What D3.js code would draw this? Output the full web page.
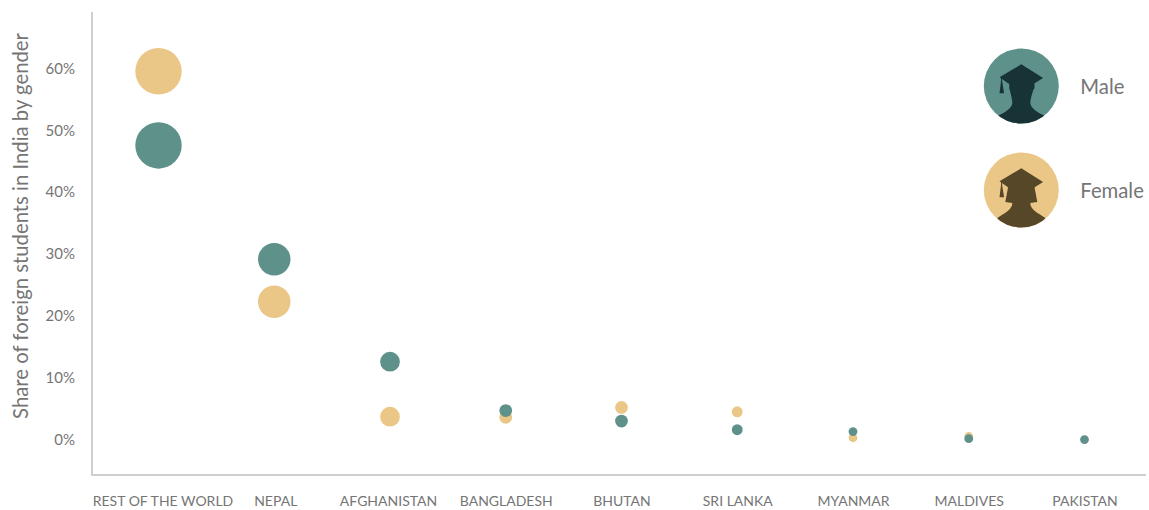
<!DOCTYPE html>
<html>
<head>
<meta charset="utf-8">
<script src="https://cdn.jsdelivr.net/npm/d3@7"></script>
<style>
  html, body { margin: 0; padding: 0; background: #fff; }
  svg { display: block; }
  text { font-family: Lato, "Noto Sans", sans-serif; fill: #757575; }
  .axis text { font-size: 15px; }
  .axis.x text { font-size: 14px; }
  .axis .domain, .axis line { display: none; }
</style>
</head>
<body>
<svg id="chart" width="1149" height="510"></svg>
<script>
const countries = ['REST OF THE WORLD', 'NEPAL', 'AFGHANISTAN', 'BANGLADESH', 'BHUTAN', 'SRI LANKA', 'MYANMAR', 'MALDIVES', 'PAKISTAN'];
const maleShare = [47.6, 29.2, 12.6, 4.7, 3.0, 1.6, 1.3, 0.15, 0.0];
const femaleShare = [59.6, 22.3, 3.7, 3.6, 5.2, 4.5, 0.3, 0.5, null];
// overall size of each country's group, drives the bubble area
const groupSize = [53, 26, 9.6, 4, 4, 2.9, 1.9, 1.9, 1.9];
const yTicks = [0, 10, 20, 30, 40, 50, 60];
const legendItems = ['Male', 'Female'];

const MALE = '#5f918b', FEMALE = '#eac687';
const MALE_DARK = '#183335', FEMALE_DARK = '#574729';

const svg = d3.select('#chart');

const x = d3.scalePoint().domain(countries).range([158.5, 1084.5]);
const y = d3.scaleLinear().domain([0, 60]).range([439.6, 68.8]);
const r = d3.scaleSqrt().domain([0, 53]).range([0, 23.2]);

// axis lines
svg.append('path')
  .attr('d', 'M92,12V475H1146')
  .attr('fill', 'none')
  .attr('stroke', '#cfcfcf')
  .attr('stroke-width', 2);

const yAxis = d3.axisLeft(y).tickValues(yTicks).tickFormat(d => d + '%').tickSize(0).tickPadding(0);
svg.append('g').attr('class', 'axis y')
  .attr('transform', 'translate(75,-0.4)')
  .call(yAxis);

const xAxis = d3.axisBottom(x).tickSize(0).tickPadding(0);
const xGroup = svg.append('g').attr('class', 'axis x')
  .attr('transform', 'translate(0,496.5)')
  .call(xAxis);

// the long first labels were nudged by hand in the original
xGroup.selectAll('text')
  .attr('dx', d => d === 'REST OF THE WORLD' ? 4 : d === 'AFGHANISTAN' ? -2 : d === 'NEPAL' ? 1 : 0);

svg.append('text')
  .attr('transform', 'translate(28,226) rotate(-90)')
  .attr('text-anchor', 'middle')
  .style('font-size', '20.3px')
  .text('Share of foreign students in India by gender');

// female first so male sits on top
[[femaleShare, FEMALE], [maleShare, MALE]].forEach(([values, color]) => {
  svg.append('g').selectAll('circle')
    .data(countries.map((c, i) => ({c, v: values[i], size: groupSize[i]})).filter(d => d.v !== null))
    .join('circle')
    .attr('cx', d => x(d.c))
    .attr('cy', d => y(d.v))
    .attr('r', d => r(d.size))
    .attr('fill', color);
});

// legend icons
const cap = 'M0,-21.7L21.8,-7.9L13,-2.5L-13,-2.5L-21.8,-8.8Z';
const maleBody = 'M-13,-4C-11,-1 -13,2 -11.5,4C-10,10 -9,14 -9,17C-9,22 -17,27 -24,30L-24,40H24L24,30C17,27 9,22 9,17C9,14 10,10 12,4C14,2 13,-1 13,-4Z';
const femaleBody = 'M-13,-4L-16,12L-9,13C-9,20 -17,23 -24,28L-24,40H24L24,28C17,23 9,20 9,13L16,12L13,-4Z';
const tassel = 'M-20.2,-8.5L-19.4,-8.5L-19,-4L-17.2,7.2L-21.8,7.2L-20.4,-4Z';

svg.append('clipPath').attr('id', 'iconClip')
  .append('circle').attr('r', 37.5);

const legend = svg.selectAll('.legend')
  .data(legendItems)
  .join('g')
  .attr('class', 'legend')
  .attr('transform', (d, i) => `translate(1021.3,${86 + i * 104})`);

legend.append('circle').attr('r', 37.5).attr('fill', d => d === 'Male' ? MALE : FEMALE);

const icon = legend.append('g')
  .attr('clip-path', 'url(#iconClip)')
  .attr('fill', d => d === 'Male' ? MALE_DARK : FEMALE_DARK);
icon.append('path').attr('d', cap);
icon.append('path').attr('d', d => d === 'Male' ? maleBody : femaleBody);
icon.append('path').attr('d', tassel);

legend.append('text')
  .attr('x', 59)
  .attr('y', 8)
  .style('font-size', '20.3px')
  .text(d => d);
</script>
</body>
</html>
